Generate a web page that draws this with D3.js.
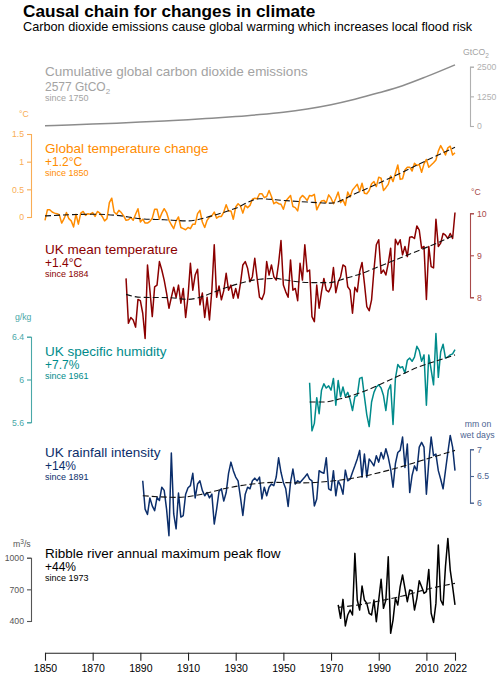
<!DOCTYPE html>
<html><head><meta charset="utf-8">
<script src="https://cdn.jsdelivr.net/npm/d3@7"></script>
<style>
body{margin:0;background:#fff}
text{font-family:"Liberation Sans",Arial,Helvetica,sans-serif}
</style>
</head><body>
<svg id="c" width="500" height="678"></svg>
<script>
// ---------------- DATA ----------------
const xTickYears = [1850,1870,1890,1910,1930,1950,1970,1990,2010,2022];

const co2Years  = [1850,1860,1870,1880,1890,1900,1910,1920,1930,1940,1950,1960,1970,1980,1990,2000,2010,2022];
const co2Values = [13,45,80,120,165,215,265,330,400,480,580,720,900,1130,1400,1700,2080,2577];
const co2Ticks = [0,1250,2500];

const globalTempStart = 1850;
const globalTemp = [
-0.06,0.13,0.13,0.09,0.07,0.06,0.04,-0.11,-0.03,0.08,
-0.03,-0.07,-0.18,0.05,-0.13,0.07,0.10,0.03,0.06,0.05,
0.08,0.01,0.10,0.07,0.01,-0.07,-0.03,0.26,0.34,0.09,
0.05,0.12,0.08,0.02,-0.06,-0.05,-0.01,-0.06,0.05,0.15,
-0.09,-0.04,-0.11,-0.11,-0.08,-0.02,0.14,0.14,-0.04,0.07,
0.15,0.08,-0.06,-0.14,-0.21,-0.07,0.00,-0.19,-0.21,-0.23,
-0.19,-0.21,-0.13,-0.13,0.06,0.12,-0.09,-0.19,-0.06,0.00,
0.02,0.09,-0.02,0.01,0.01,0.09,0.22,0.11,0.11,-0.04,
0.18,0.24,0.20,0.07,0.21,0.17,0.21,0.32,0.34,0.33,
0.42,0.42,0.35,0.37,0.48,0.37,0.24,0.27,0.24,0.23,
0.14,0.29,0.34,0.39,0.19,0.17,0.11,0.34,0.39,0.35,
0.30,0.39,0.38,0.41,0.13,0.22,0.29,0.30,0.26,0.40,
0.34,0.24,0.34,0.45,0.26,0.31,0.21,0.45,0.36,0.49,
0.54,0.59,0.46,0.61,0.43,0.42,0.48,0.60,0.64,0.55,
0.72,0.70,0.48,0.53,0.59,0.74,0.64,0.79,0.94,0.68,
0.69,0.85,0.90,0.90,0.83,0.97,0.93,0.95,0.81,0.96,
1.04,0.90,0.94,0.98,1.03,1.19,1.29,1.21,1.12,1.25,
1.28,1.12,1.16];
const globalTempTrendYears = [1850,1870,1880,1890,1900,1910,1920,1930,1940,1950,1960,1970,1980,1990,2000,2010,2022];
const globalTempTrend      = [0.02,0.05,0.03,-0.03,-0.05,-0.07,0.02,0.16,0.33,0.30,0.27,0.25,0.42,0.61,0.81,1.02,1.26];
const globalTempTicks = [0,0.5,1,1.5];

const ukTempStart = 1884;
const ukTemp = [
8.45,7.38,7.52,7.46,7.29,7.95,7.92,7.62,7.02,8.77,
8.17,7.54,8.25,8.29,8.85,8.65,8.41,8.10,7.74,8.00,
8.24,8.00,8.29,7.86,8.21,7.52,8.02,8.81,8.17,8.53,
8.67,7.82,8.10,7.52,8.00,7.46,8.17,9.25,8.00,8.27,
7.94,8.16,8.57,8.17,8.29,7.98,8.21,7.98,8.33,8.77,
8.85,8.69,8.37,8.49,8.93,8.45,8.00,7.95,8.10,8.85,
8.53,8.77,8.49,8.41,8.81,9.35,8.29,8.13,8.00,8.89,
8.17,8.21,7.92,8.81,8.41,9.25,8.61,8.65,7.54,7.42,
8.29,7.74,8.13,8.45,8.17,8.13,8.25,8.71,8.11,8.37,
8.49,8.77,8.73,8.25,8.17,7.62,8.24,8.13,8.61,8.83,
8.33,7.78,7.68,7.94,8.65,9.25,9.37,8.57,8.65,8.53,
8.81,9.17,8.17,9.38,9.25,9.37,9.01,9.21,8.97,9.43,
9.44,9.40,9.70,9.60,9.17,9.21,7.95,9.21,8.73,8.70,
9.86,9.21,9.29,9.52,9.48,9.40,9.52,9.40,10.02];
const ukTempTrendYears = [1884,1890,1903,1910,1915,1923,1931,1940,1947,1951,1956,1962,1969,1976,1983,1990,1997,2004,2011,2016,2022];
const ukTempTrend      = [8.07,8.00,7.99,7.95,8.00,8.17,8.32,8.43,8.45,8.41,8.37,8.35,8.35,8.45,8.57,8.73,8.89,9.05,9.21,9.33,9.49];
const ukTempTicks = [8,9,10];

const humidityStart = 1961;
const humidity = [
5.97,5.52,5.59,5.83,5.68,5.90,5.96,5.92,5.94,5.90,
6.01,5.76,5.99,5.84,5.93,5.84,5.88,5.81,5.71,5.84,
5.85,6.01,6.02,5.84,5.67,5.56,5.79,5.88,5.93,5.95,
5.92,5.85,5.71,5.90,5.95,5.58,6.01,6.14,6.11,6.12,
6.06,6.18,6.20,6.17,6.21,6.31,6.27,6.17,6.23,5.76,
6.23,6.09,5.95,6.43,6.02,6.26,6.33,6.20,6.21,6.23,
6.24,6.28];
const humidityTrendYears = [1961,1967,1974,1985,1996,2007,2018,2022];
const humidityTrend      = [5.79,5.79,5.82,5.90,6.01,6.12,6.20,6.23];
const humidityTicks = [5.6,6,6.4];

const rainStart = 1891;
const rain = [
6.41,5.88,5.78,6.09,5.94,5.85,6.10,6.04,6.29,6.23,
5.88,5.38,6.93,5.79,5.51,6.18,5.73,5.76,6.16,6.28,
6.32,6.55,6.09,6.35,6.41,6.23,6.13,6.19,6.09,6.16,
5.60,5.88,6.21,6.26,6.03,6.19,6.55,6.76,6.60,6.48,
6.41,6.10,5.76,6.16,6.29,6.26,6.41,6.46,6.41,6.48,
6.07,6.29,6.13,6.29,6.35,6.32,6.48,6.84,6.57,6.38,
6.26,5.93,6.38,6.63,6.35,6.41,6.38,6.43,6.48,6.54,
6.44,6.41,5.94,6.07,6.60,6.57,6.55,6.84,6.26,6.23,
6.60,6.13,6.41,6.32,6.16,6.61,6.41,6.44,6.57,6.69,
6.82,6.98,6.48,6.91,6.48,6.82,6.76,6.69,6.88,6.76,
6.94,6.82,7.01,6.85,6.63,6.29,6.73,6.94,6.98,7.23,
6.66,7.10,6.19,6.51,6.69,6.60,7.04,7.13,7.04,6.16,
6.76,7.23,6.88,6.91,6.60,6.44,6.26,6.60,6.94,7.26,
7.04,6.60];
const rainTrendYears = [1891,1906,1916,1925,1937,1946,1957,1969,1983,1996,2008,2022];
const rainTrend      = [6.13,6.10,6.16,6.26,6.35,6.38,6.37,6.40,6.49,6.63,6.79,6.98];
const rainTicks = [6,6.5,7];

const ribbleStart = 1973;
const ribble = [
552,425,605,353,457,504,457,1041,599,504,
732,599,567,473,457,599,394,599,795,520,
599,1009,283,409,615,552,725,836,709,583,
694,687,504,615,782,725,662,678,889,473,
387,567,1120,599,552,915,1183,883,725,552];
const ribbleTrendYears = [1973,1983,1990,2000,2010,2022];
const ribbleTrend      = [529,558,589,637,700,757];
const ribbleTicks = [400,700,1000];

// ---------------- CHART ----------------
const svg = d3.select('#c');
const FONT = '"Liberation Sans",Arial,Helvetica,sans-serif';
const x = d3.scaleLinear().domain([1850,2022]).range([45,455]);

const toPts = (start, arr) => arr.map((v,i)=>({year:start+i, v}));
const zip = (ys, vs) => ys.map((y,i)=>({year:y, v:vs[i]}));

const panels = [
  {name:'co2', series: zip(co2Years,co2Values), trend:null, ticks:co2Ticks,
   domain:[0,2500], range:[126,66.7], side:'right', color:'#8c8c8c', axisColor:'#b0b0b0', textColor:'#a3a3a3',
   title:'Cumulative global carbon dioxide emissions', ty:76, subDy:14.7, sinceDy:25, sub:'2577 GtCO', subScript:'2', since:'since 1750'},
  {name:'gt', series: toPts(globalTempStart,globalTemp), trend: zip(globalTempTrendYears,globalTempTrend), ticks:globalTempTicks,
   domain:[0,1.5], range:[217,134], side:'left', color:'#ff8c00', axisColor:'#f9ad55', textColor:'#ff8c00',
   title:'Global temperature change', ty:152.7, sub:'+1.2°C', since:'since 1850'},
  {name:'ukt', series: toPts(ukTempStart,ukTemp), trend: zip(ukTempTrendYears,ukTempTrend), ticks:ukTempTicks,
   domain:[8,10], range:[297.3,213.3], side:'right', color:'#8b0000', axisColor:'#a84a4a', textColor:'#8b0000',
   title:'UK mean temperature', ty:254.4, sub:'+1.4°C', since:'since 1884'},
  {name:'hum', series: toPts(humidityStart,humidity), trend: zip(humidityTrendYears,humidityTrend), ticks:humidityTicks,
   domain:[5.6,6.4], range:[422.3,336.7], side:'left', color:'#008b8b', axisColor:'#4aa8a8', textColor:'#008b8b',
   title:'UK specific humidity', ty:355.9, sub:'+7.7%', since:'since 1961'},
  {name:'rain', series: toPts(rainStart,rain), trend: zip(rainTrendYears,rainTrend), ticks:rainTicks,
   domain:[6,7], range:[502.7,449.3], side:'right', color:'#0b2e6b', axisColor:'#4d6592', textColor:'#0b2e6b',
   title:'UK rainfall intensity', ty:456.9, sub:'+14%', since:'since 1891'},
  {name:'rib', series: toPts(ribbleStart,ribble), trend: zip(ribbleTrendYears,ribbleTrend), ticks:ribbleTicks,
   domain:[400,1000], range:[621,557.7], side:'left', color:'#000000', axisColor:'#555555', textColor:'#000000',
   title:'Ribble river annual maximum peak flow', ty:558.4, sub:'+44%', since:'since 1973'}
];

// Title
svg.append('text').attr('x',23).attr('y',17).attr('font-weight','bold').attr('font-size',17.2).attr('fill','#000')
   .text('Causal chain for changes in climate');
svg.append('text').attr('x',23).attr('y',31).attr('font-size',12.7).attr('fill','#000')
   .text('Carbon dioxide emissions cause global warming which increases local flood risk');

panels.forEach(p=>{
  const y = d3.scaleLinear().domain(p.domain).range(p.range);
  // axis
  const ax = (p.side==='left'? d3.axisLeft(y) : d3.axisRight(y))
      .tickValues(p.ticks).tickSize(4).tickSizeOuter(4).tickPadding(3).tickFormat(d=>String(d));
  const g = svg.append('g').attr('transform',`translate(${p.side==='left'?31:470},0)`).call(ax)
      .attr('font-family',FONT).attr('font-size',8.7);
  g.selectAll('path,line').attr('stroke',p.axisColor).attr('stroke-width',1.1);
  g.selectAll('text').attr('fill',p.axisColor);
  // series
  const line = d3.line().x(d=>x(d.year)).y(d=>y(d.v));
  if(p.name==='co2') line.curve(d3.curveMonotoneX);
  svg.append('path').datum(p.series).attr('d',line).attr('fill','none')
     .attr('stroke',p.color).attr('stroke-width',1.5).attr('stroke-linejoin','round');
  if(p.trend){
    const tl = d3.line().x(d=>x(d.year)).y(d=>y(d.v)).curve(d3.curveMonotoneX);
    svg.append('path').datum(p.trend).attr('d',tl).attr('fill','none')
       .attr('stroke','#111').attr('stroke-width',1.1).attr('stroke-dasharray','6,3');
  }
  // labels
  svg.append('text').attr('x',45).attr('y',p.ty).attr('font-size',13.5).attr('fill',p.textColor).text(p.title);
  const s = svg.append('text').attr('x',45).attr('y',p.ty+(p.subDy||13)).attr('font-size',12).attr('fill',p.textColor).text(p.sub);
  if(p.subScript) s.append('tspan').attr('dy',3).attr('font-size',8).text(p.subScript);
  svg.append('text').attr('x',45).attr('y',p.ty+(p.sinceDy||22.8)).attr('font-size',9).attr('fill',p.textColor).text(p.since);
});

// units
const unit = (t,xx,yy,c,anchor)=>svg.append('text').attr('x',xx).attr('y',yy).attr('font-size',8.7)
   .attr('fill',c).attr('text-anchor',anchor||'start').text(t);
const gu = unit('GtCO',463,55,'#a3a3a3'); gu.append('tspan').attr('dy',2.5).attr('font-size',6.5).text('2');
unit('°C',19,117,'#f9ad55');
unit('°C',471,195,'#a84a4a');
unit('g/kg',15,320,'#4aa8a8');
unit('mm on',478,427,'#4d6592','middle');
unit('wet days',477.5,438,'#4d6592','middle');
const mu = unit('m',13,547,'#555'); mu.append('tspan').attr('dy',-3.5).attr('font-size',6.5).text('3');
mu.append('tspan').attr('dy',3.5).text('/s');

// x axis
const xa = d3.axisBottom(x).tickValues(xTickYears).tickSize(8).tickSizeOuter(0).tickPadding(4).tickFormat(d=>String(d));
const xg = svg.append('g').attr('transform','translate(0,652.7)').call(xa).attr('font-family',FONT).attr('font-size',10.5);
xg.selectAll('path,line').attr('stroke','#222').attr('stroke-width',1.1);
xg.selectAll('text').attr('fill','#000');
</script>
</body></html>
